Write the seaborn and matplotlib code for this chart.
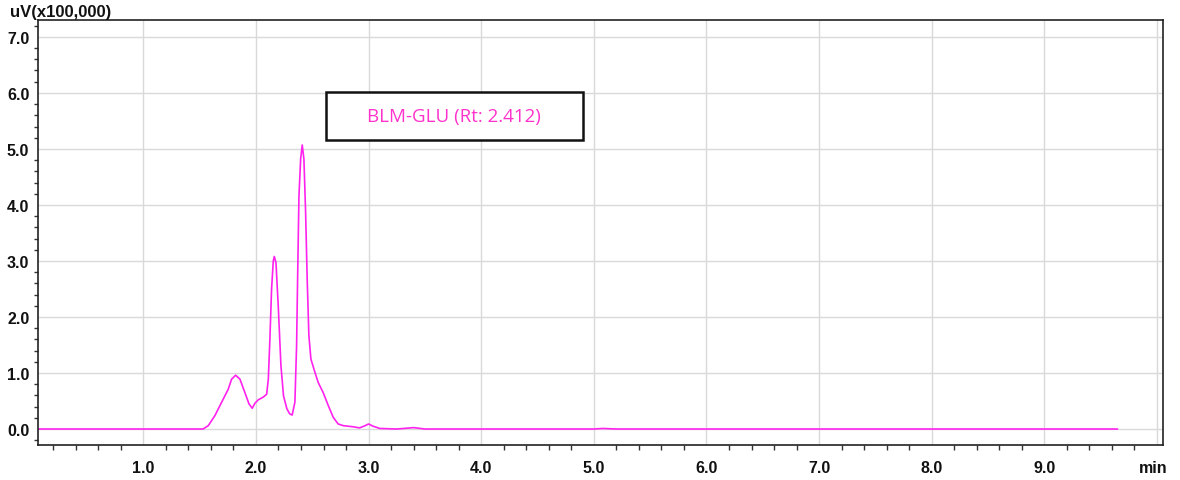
import matplotlib
matplotlib.use("Agg")
import matplotlib.pyplot as plt
import matplotlib.transforms as mtransforms
from matplotlib.patches import Rectangle
from matplotlib.ticker import MultipleLocator, FixedLocator
import numpy as np
import pandas as pd
import seaborn as sns

# Chromatogram trace: retention time (min) and detector signal (uV x 100,000)
time_min = [
    0.00, 1.53, 1.577, 1.636, 1.696, 1.754, 1.784, 1.82, 1.858, 1.902,
    1.938, 1.967, 1.991, 2.02, 2.065, 2.095, 2.11, 2.124, 2.139, 2.154,
    2.163, 2.178, 2.198, 2.222, 2.245, 2.275, 2.30, 2.322, 2.346, 2.361,
    2.370, 2.382, 2.397, 2.411, 2.426, 2.441, 2.455, 2.470, 2.488, 2.524,
    2.553, 2.597, 2.642, 2.686, 2.730, 2.775, 2.863, 2.92, 2.97, 3.00,
    3.04, 3.10, 3.25, 3.40, 3.50, 5.00, 5.08, 5.20, 9.65,
]
signal = [
    0.00, 0.00, 0.06, 0.24, 0.48, 0.71, 0.89, 0.96, 0.89, 0.65,
    0.45, 0.37, 0.46, 0.52, 0.57, 0.62, 0.89, 1.61, 2.50, 3.00,
    3.08, 2.97, 2.20, 1.13, 0.59, 0.36, 0.27, 0.25, 0.48, 1.49,
    2.68, 4.16, 4.82, 5.07, 4.82, 3.87, 2.68, 1.67, 1.25, 1.01,
    0.83, 0.65, 0.42, 0.21, 0.09, 0.06, 0.04, 0.02, 0.06, 0.09,
    0.05, 0.01, 0.00, 0.025, 0.00, 0.00, 0.01, 0.00, 0.00,
]

x_major = [1.0, 2.0, 3.0, 4.0, 5.0, 6.0, 7.0, 8.0, 9.0, 10.0]
x_labels = ["1.0", "2.0", "3.0", "4.0", "5.0", "6.0", "7.0", "8.0", "9.0", "min"]
y_major = [0.0, 1.0, 2.0, 3.0, 4.0, 5.0, 6.0, 7.0]
y_labels = ["0.0", "1.0", "2.0", "3.0", "4.0", "5.0", "6.0", "7.0"]

peak_label = "BLM-GLU (Rt: 2.412)"
y_unit = "uV(x100,000)"

trace = pd.DataFrame({"time": time_min, "signal": signal})

sns.set_style("white")
plt.rcParams["font.family"] = ["Liberation Sans", "DejaVu Sans"]

fig = plt.figure(figsize=(11.8, 4.81), dpi=100)
ax = fig.add_axes([0.0319, 0.0728, 0.9534, 0.8834])

ax.set_axisbelow(True)
ax.grid(True, color="#d9d9d9", linewidth=1.0)

sns.lineplot(data=trace, x="time", y="signal", ax=ax, color="#ff22ee",
             linewidth=1.2, estimator=None, sort=False)

ax.set_xlim(0.062, 10.05)
ax.set_ylim(-0.285, 7.30)

ax.xaxis.set_major_locator(FixedLocator(x_major))
ax.set_xticklabels(x_labels)
ax.xaxis.set_minor_locator(MultipleLocator(0.2))
ax.yaxis.set_major_locator(FixedLocator(y_major))
ax.set_yticklabels(y_labels)
ax.yaxis.set_minor_locator(MultipleLocator(0.2))

ax.tick_params(axis="x", which="major", direction="out", length=6.5, width=1.0,
               color="#333333", pad=4, labelsize=11.5)
ax.tick_params(axis="x", which="minor", direction="out", length=3.6, width=1.0,
               color="#333333", bottom=True)
ax.tick_params(axis="y", which="major", direction="out", length=5, width=1.0,
               color="#333333", pad=1, labelsize=11.5)
ax.tick_params(axis="y", which="minor", direction="out", length=3, width=1.0,
               color="#333333", left=True)
for lab in ax.get_xticklabels() + ax.get_yticklabels():
    lab.set_fontweight("bold")
    lab.set_color("#111111")

# Unit label on the last x tick sits slightly left of its tick
unit_lab = ax.get_xticklabels()[-1]
unit_lab.set_transform(unit_lab.get_transform() +
                       mtransforms.ScaledTranslation(-4 / 100, 0, fig.dpi_scale_trans))

for side in ("left", "bottom", "top", "right"):
    ax.spines[side].set_visible(True)
    ax.spines[side].set_color("#222222")
    ax.spines[side].set_linewidth(1.2)

ax.set_xlabel("")
ax.set_ylabel("")

fig.text(0.0085, 0.965, y_unit, fontsize=12, fontweight="bold",
         color="#111111", ha="left", va="baseline")

# Peak annotation box
ax.add_patch(Rectangle((2.621, 5.16), 2.28, 0.85, facecolor="white",
                       edgecolor="#111111", linewidth=1.8, zorder=5))
ax.text(3.761, 5.585, peak_label, ha="center", va="center", fontsize=13.5,
        color="#ff33cc", family=["Open Sans", "DejaVu Sans"], zorder=6)

fig.savefig("out.png", dpi=100)
